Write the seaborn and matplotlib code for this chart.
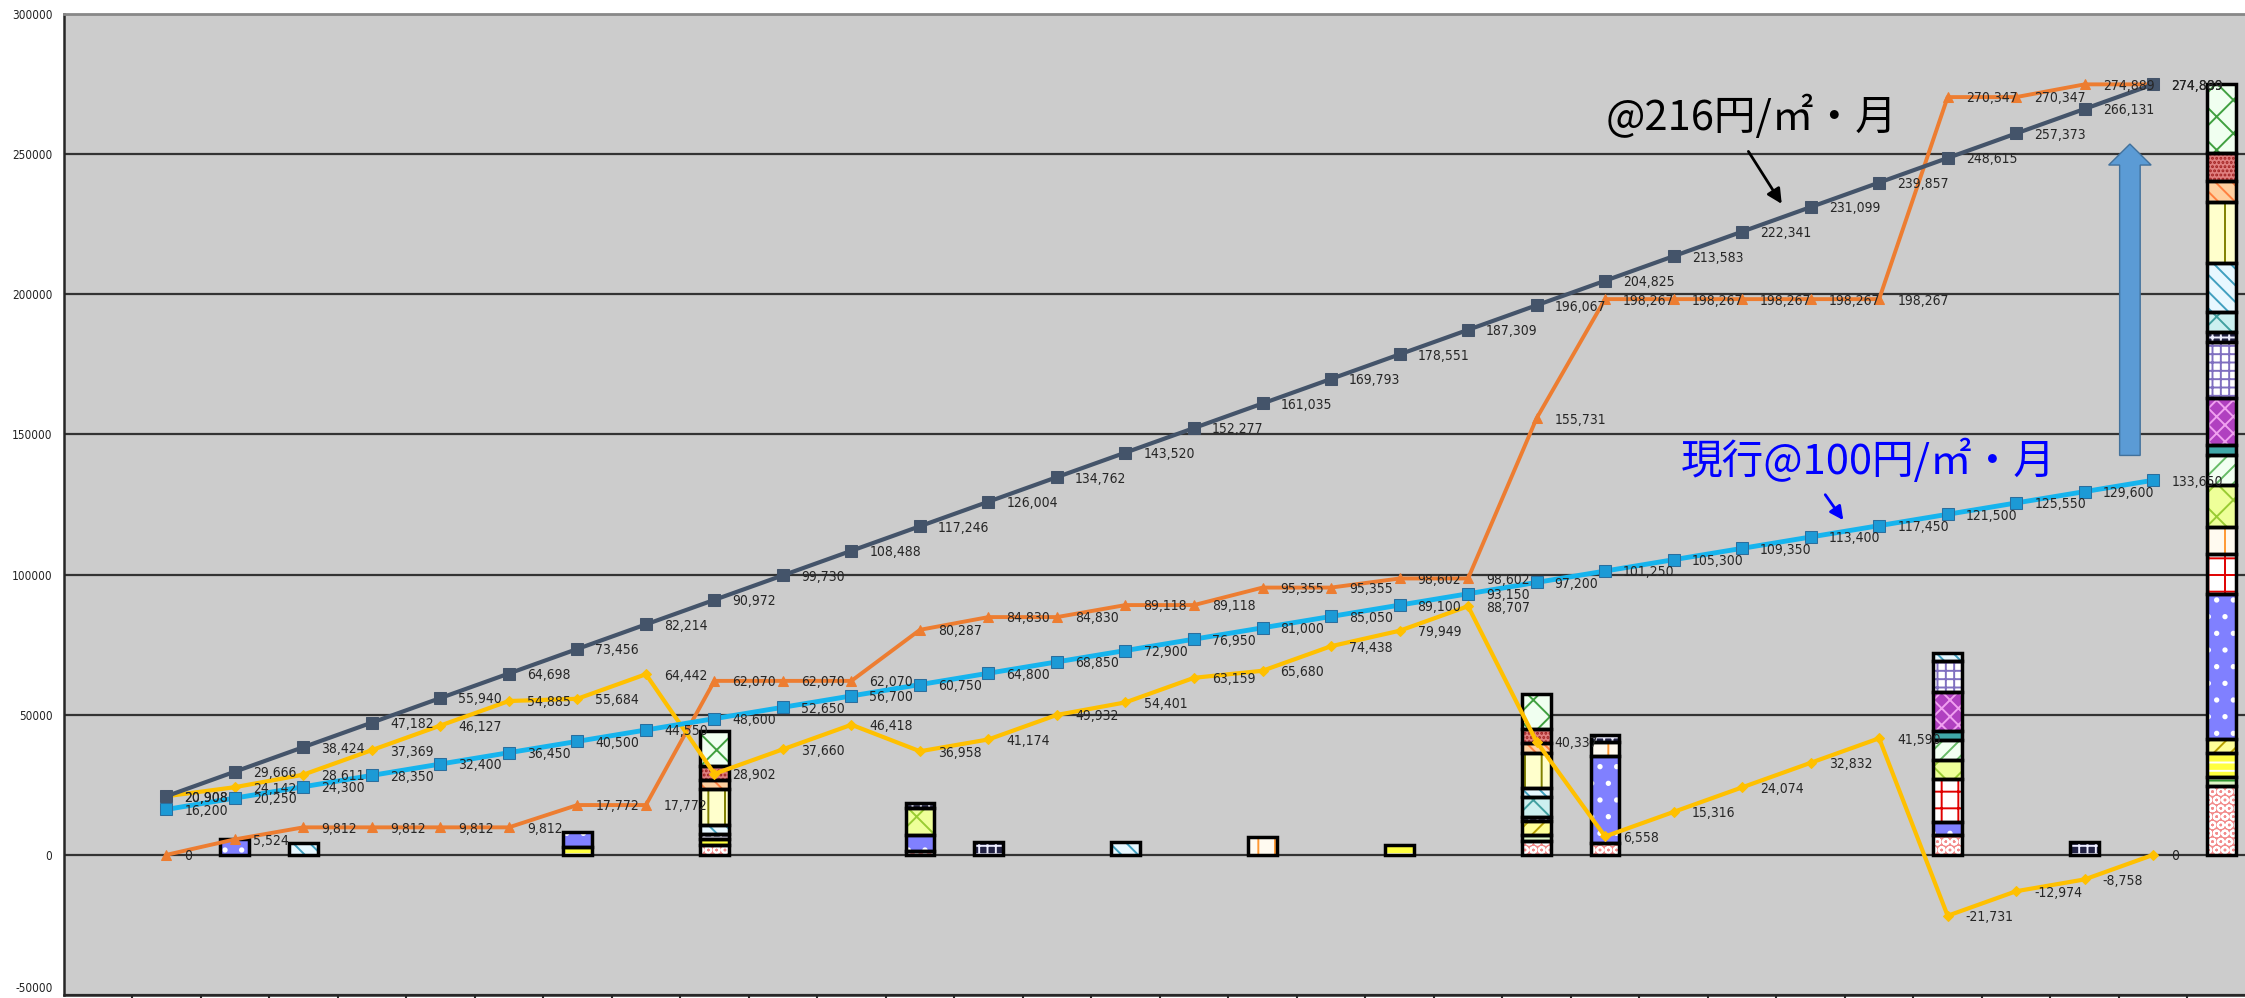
import numpy as np
import pandas as pd
import seaborn as sns
import matplotlib.pyplot as plt
from matplotlib.patches import FancyArrow

# x positions of the yearly points (0..29), the total bar sits at 30
years = list(range(30))

# @216 yen line and current @100 yen line
rate216 = [20908, 29666, 38424, 47182, 55940, 64698, 73456, 82214, 90972, 99730,
           108488, 117246, 126004, 134762, 143520, 152277, 161035, 169793, 178551, 187309,
           196067, 204825, 213583, 222341, 231099, 239857, 248615, 257373, 266131, 274889]
rate100 = [16200, 20250, 24300, 28350, 32400, 36450, 40500, 44550, 48600, 52650,
           56700, 60750, 64800, 68850, 72900, 76950, 81000, 85050, 89100, 93150,
           97200, 101250, 105300, 109350, 113400, 117450, 121500, 125550, 129600, 133650]
# cumulative repair cost (orange) and balance (yellow)
repair_cum = [0, 5524, 9812, 9812, 9812, 9812, 17772, 17772, 62070, 62070,
              62070, 80287, 84830, 84830, 89118, 89118, 95355, 95355, 98602, 98602,
              155731, 198267, 198267, 198267, 198267, 198267, 270347, 270347, 274889, 274889]
balance = [20908, 24142, 28611, 37369, 46127, 54885, 55684, 64442, 28902, 37660,
           46418, 36958, 41174, 49932, 54401, 63159, 65680, 74438, 79949, 88707,
           40337, 6558, 15316, 24074, 32832, 41590, -21731, -12974, -8758, 0]

# repair work items (stacked bar segments), bottom to top
cat_names = ['A', 'B', 'C', 'D', 'E', 'F', 'G', 'H', 'I', 'J',
             'K', 'L', 'M', 'N', 'O', 'P', 'Q', 'R', 'S']
cat_faces = ['#f28b8b', '#e0f5c8', '#ffff40', '#ffff99', '#8080ff', '#ffffff', '#fffaf0',
             '#eeff99', '#f2fff2', '#40a8a8', '#b040c0', '#ffffff', '#222244', '#ccf0f0',
             '#e8f8ff', '#ffffcc', '#ffd0a0', '#e08080', '#f0fff0']
cat_hatches = ['OO', '---', '--', '//', '.', '+', '|', 'x', '//', '-',
               'xx', '++', '++', 'x', '\\\\', '|', '\\\\', '....', 'x']
cat_hcolors = ['white', '#339933', 'white', '#b8a000', 'white', '#e00000', '#ff9933',
               '#99cc33', '#66bb66', 'white', '#f0a0f0', '#8070c0', '#eeeeff', '#40a0a0',
               '#40a0c0', '#808000', '#ff8040', '#a02020', '#40a040']

bar_pos = [1, 2, 6, 8, 11, 12, 14, 16, 18, 20, 21, 26, 28, 30]
bar_parts = [
    {'E': 5800},
    {'O': 4300},
    {'C': 2800, 'E': 5400},
    {'A': 3600, 'C': 2000, 'M': 1800, 'O': 3400, 'P': 12800, 'Q': 3200, 'R': 5000, 'S': 12500},
    {'A': 1200, 'E': 6000, 'H': 9500, 'M': 1900},
    {'M': 4600},
    {'O': 4600},
    {'G': 6400},
    {'C': 3400},
    {'A': 5000, 'B': 2000, 'D': 5000, 'M': 1500, 'N': 7000, 'O': 3500, 'P': 12500,
     'Q': 3500, 'R': 5000, 'S': 12500},
    {'A': 4300, 'E': 31100, 'G': 5000, 'M': 2500},
    {'A': 7100, 'E': 4700, 'F': 15300, 'H': 6800, 'I': 7200, 'J': 3200, 'K': 13900,
     'L': 10800, 'O': 3100},
    {'M': 4600},
    {'A': 24600, 'B': 3300, 'C': 8500, 'D': 5000, 'E': 51500, 'F': 14600, 'G': 9600,
     'H': 15000, 'I': 10400, 'J': 3600, 'K': 16800, 'L': 20000, 'M': 3500, 'N': 7200,
     'O': 17500, 'P': 21800, 'Q': 7500, 'R': 10000, 'S': 24500},
]

label216 = '@216円/㎡・月'
label100 = '現行@100円/㎡・月'

sns.set_style('ticks', {'axes.facecolor': '#cccccc'})
plt.rcParams['font.family'] = ['DejaVu Sans']
plt.rcParams['font.stretch'] = 'condensed'
plt.rcParams['hatch.linewidth'] = 1.4

fig = plt.figure(figsize=(22.45, 9.98), dpi=100)
ax = fig.add_axes([0.0283, 0.003, 0.9717, 0.983])

# stacked bars
for pos, parts in zip(bar_pos, bar_parts):
    bottom = 0
    for i, name in enumerate(cat_names):
        if name not in parts:
            continue
        h = parts[name]
        ax.bar(pos, h, bottom=bottom, width=0.42, color=cat_faces[i], hatch=cat_hatches[i],
               edgecolor=cat_hcolors[i], linewidth=0, zorder=2)
        ax.bar(pos, h, bottom=bottom, width=0.42, fill=False, edgecolor='black',
               linewidth=2.5, zorder=2.1)
        bottom += h

# lines
df = pd.DataFrame({'x': years, 'r216': rate216, 'r100': rate100,
                   'repair': repair_cum, 'bal': balance})
sns.lineplot(data=df, x='x', y='r216', ax=ax, color='#44546a', linewidth=3.0, marker='s',
             markersize=8, markeredgecolor='#44546a', legend=False, zorder=4)
sns.lineplot(data=df, x='x', y='r100', ax=ax, color='#16b4ee', linewidth=3.5, marker='s',
             markersize=8, markerfacecolor='#1c9ad6', markeredgecolor='#2a6e9e',
             legend=False, zorder=4)
sns.lineplot(data=df, x='x', y='repair', ax=ax, color='#ed7d31', linewidth=2.8, marker='^',
             markersize=7, markeredgecolor='#ed7d31', legend=False, zorder=3)
sns.lineplot(data=df, x='x', y='bal', ax=ax, color='#ffc000', linewidth=3.0, marker='D',
             markersize=5, markeredgecolor='#ffc000', legend=False, zorder=3)

# data labels
for series in [rate216, rate100, repair_cum, balance]:
    for x, v in zip(years, series):
        ax.annotate(f'{v:,}', (x, v), xytext=(13, -1), textcoords='offset points',
                    ha='left', va='center', fontsize=10, color='#262626',
                    fontstretch='condensed', zorder=5)

# annotations
jp = ['Noto Sans CJK JP', 'DejaVu Sans']
ax.text(23.14, 263200, label216, ha='center', va='center', fontsize=30, color='black',
        family=jp, fontstretch='normal', zorder=6)
ax.annotate('', xy=(23.6, 231400), xytext=(23.07, 251800),
            arrowprops=dict(arrowstyle='-|>', color='black', lw=2, mutation_scale=22), zorder=6)
ax.text(24.84, 140400, label100, ha='center', va='center', fontsize=30, color='#0000ff',
        family=jp, fontstretch='normal', zorder=6)
ax.annotate('', xy=(24.5, 118600), xytext=(24.19, 129300),
            arrowprops=dict(arrowstyle='-|>', color='#0000ff', lw=2, mutation_scale=20), zorder=6)
ax.add_patch(FancyArrow(28.66, 142500, 0, 111100, width=0.3, head_width=0.62,
                        head_length=7500, length_includes_head=True,
                        facecolor='#5b9bd5', edgecolor='#41719c', linewidth=1, zorder=6))

# axes styling
ax.set_xlim(-1.5, 30.34)
ax.set_ylim(-50000, 300000)
ax.set_yticks(np.arange(-50000, 300001, 50000))
ax.set_yticklabels([str(v) for v in range(-50000, 300001, 50000)])
ax.set_xticks(np.arange(-0.5, 30.5, 1))
ax.set_xticklabels([])
ax.tick_params(axis='y', length=0, pad=8, labelsize=8.5, labelcolor='#222222')
ax.tick_params(axis='x', length=5, width=1.5, direction='out')
# bottom tick label sits on the figure edge, lift it so it stays readable
ax.get_yticklabels()[0].set_verticalalignment('bottom')
ax.grid(axis='y', color='#333333', linewidth=1.6, zorder=1)
ax.set_axisbelow(True)
ax.set_xlabel('')
ax.set_ylabel('')
ax.spines['right'].set_visible(False)
ax.spines['top'].set_color('#888888')
ax.spines['top'].set_linewidth(2)
ax.spines['left'].set_linewidth(1.8)
ax.spines['bottom'].set_linewidth(1.8)

plt.savefig('out.png', dpi=100)
plt.close()
